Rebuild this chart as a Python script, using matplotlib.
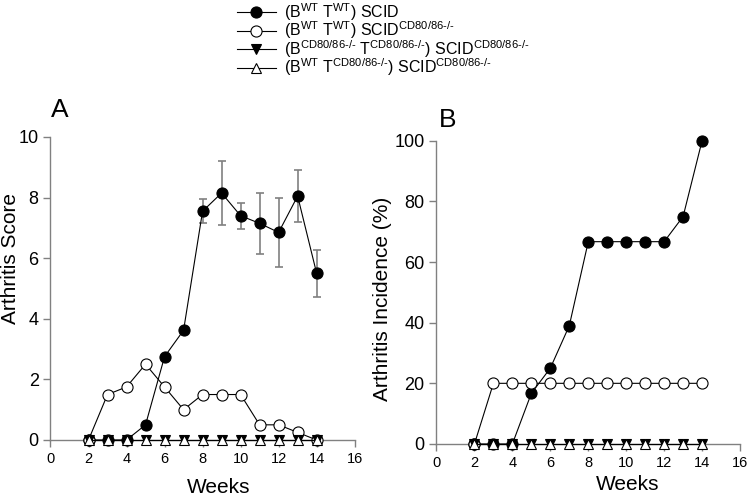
import numpy as np
import matplotlib
matplotlib.use("Agg")
import matplotlib.pyplot as plt

plt.rcParams['font.family'] = ['Liberation Sans', 'DejaVu Sans']
plt.rcParams['mathtext.fontset'] = 'custom'
plt.rcParams['mathtext.rm'] = 'Liberation Sans'
plt.rcParams['mathtext.it'] = 'Liberation Sans'

weeks = np.arange(2, 15)

# panel A - arthritis score
score_wt = [0, 0, 0, 0.5, 2.75, 3.62, 7.55, 8.15, 7.4, 7.15, 6.85, 8.05, 5.5]
score_wt_err = [0, 0, 0, 0, 0, 0, 0.39, 1.05, 0.43, 1.0, 1.14, 0.87, 0.77]
score_cd = [0, 1.5, 1.75, 2.5, 1.75, 1.0, 1.5, 1.5, 1.5, 0.5, 0.5, 0.25, 0]
score_ko = [0] * 13
score_tko = [0] * 13

# panel B - incidence (%)
inc_wt = [0, 0, 0, 16.7, 25, 39, 66.7, 66.7, 66.7, 66.7, 66.7, 75, 100]
inc_cd = [0, 20, 20, 20, 20, 20, 20, 20, 20, 20, 20, 20, 20]
inc_ko = [0] * 13
inc_tko = [0] * 13

labels = [r'(B$^{\mathrm{WT}}$ T$^{\mathrm{WT}}$) SCID',
          r'(B$^{\mathrm{WT}}$ T$^{\mathrm{WT}}$) SCID$^{\text{CD80/86-/-}}$',
          r'(B$^{\text{CD80/86-/-}}$ T$^{\text{CD80/86-/-}}$) SCID$^{\text{CD80/86-/-}}$',
          r'(B$^{\mathrm{WT}}$ T$^{\text{CD80/86-/-}}$) SCID$^{\text{CD80/86-/-}}$']

gray = '#808080'
fig = plt.figure(figsize=(7.5, 5.01), dpi=100)
axA = fig.add_axes([0.0673, 0.1218, 0.4056, 0.6048])
axB = fig.add_axes([0.582, 0.1138, 0.4047, 0.6054])

def series(ax, a, b, c, d):
    kw = dict(color='black', lw=0.8, clip_on=False, markeredgewidth=0.8)
    h1, = ax.plot(weeks, a, marker='o', ms=8, mfc='black', mec='black', zorder=3, **kw)
    h2, = ax.plot(weeks, b, marker='o', ms=8, mfc='white', mec='black', zorder=4, **kw)
    h3, = ax.plot(weeks, c, marker='v', ms=7, mfc='black', mec='black', zorder=5, **kw)
    h4, = ax.plot(weeks, d, marker='^', ms=7, mfc='white', mec='black', zorder=6, **kw)
    return [h1, h2, h3, h4]

axA.errorbar(weeks, score_wt, yerr=score_wt_err, fmt='none', ecolor=gray,
             elinewidth=1.2, capsize=3, capthick=1.2, zorder=2)
handles = series(axA, score_wt, score_cd, score_ko, score_tko)
series(axB, inc_wt, inc_cd, inc_ko, inc_tko)

for ax in (axA, axB):
    ax.set_xlim(0, 16)
    ax.set_xticks(range(0, 17, 2))
    ax.spines['top'].set_visible(False)
    ax.spines['right'].set_visible(False)
    for s in ('left', 'bottom'):
        ax.spines[s].set_color(gray)
        ax.spines[s].set_linewidth(1.0)
    ax.tick_params(direction='out', color=gray, length=5, width=1.0)
    ax.tick_params(axis='x', labelsize=10.5)
    ax.tick_params(axis='y', labelsize=13)

axA.set_ylim(0, 10)
axA.set_yticks(range(0, 11, 2))
axB.set_ylim(0, 100)
axB.set_yticks(range(0, 101, 20))

axA.set_xlabel('Weeks', fontsize=15)
axA.xaxis.set_label_coords(0.554, -0.125)
axA.set_ylabel('Arthritis Score', fontsize=15)
axA.yaxis.set_label_coords(-0.10, 0.60)
axB.set_xlabel('Weeks', fontsize=15)
axB.xaxis.set_label_coords(0.631, -0.102)
axB.set_ylabel('Arthritis Incidence (%)', fontsize=15)
axB.yaxis.set_label_coords(-0.147, 0.48)

fig.text(60 / 750, 1 - 110 / 501, 'A', fontsize=19, ha='center', va='center')
fig.text(448 / 750, 1 - 120 / 501, 'B', fontsize=19, ha='center', va='center')

fig.legend(handles, labels, loc='upper left', bbox_to_anchor=(226 / 750, 1.02),
           frameon=False, fontsize=11.5, handlelength=2.4, handletextpad=0.5,
           labelspacing=-0.2, borderpad=0.2)

fig.savefig('out.png', dpi=100)
